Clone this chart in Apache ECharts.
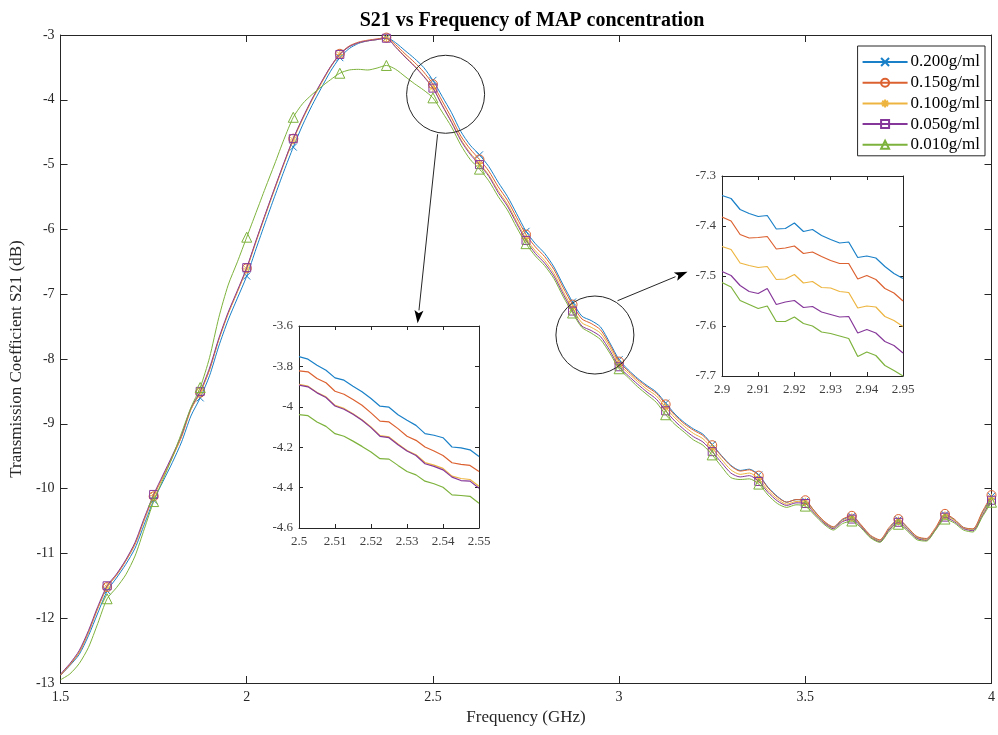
<!DOCTYPE html>
<html><head><meta charset="utf-8">
<script src="https://cdn.jsdelivr.net/npm/echarts@6/dist/echarts.min.js"></script>
<style>html,body{margin:0;padding:0;background:#fff}#c{width:998px;height:735px}</style>
</head><body><div id="c"></div><script>
const seriesNames = ['0.200g/ml','0.150g/ml','0.100g/ml','0.050g/ml','0.010g/ml'];
const freq = [1.500,1.525,1.550,1.575,1.600,1.625,1.650,1.675,1.700,1.725,
1.750,1.775,1.800,1.825,1.850,1.875,1.900,1.925,1.950,1.975,
2.000,2.025,2.050,2.075,2.100,2.125,2.150,2.175,2.200,2.225,
2.250,2.275,2.300,2.325,2.350,2.375,2.400,2.425,2.450,2.475,
2.500,2.525,2.550,2.575,2.600,2.625,2.650,2.675,2.700,2.725,
2.750,2.775,2.800,2.825,2.850,2.875,2.900,2.925,2.950,2.975,
3.000,3.025,3.050,3.075,3.100,3.125,3.150,3.175,3.200,3.225,
3.250,3.275,3.300,3.325,3.350,3.375,3.400,3.425,3.450,3.475,
3.500,3.525,3.550,3.575,3.600,3.625,3.650,3.675,3.700,3.725,
3.750,3.775,3.800,3.825,3.850,3.875,3.900,3.925,3.950,3.975,
4.000];
const s200 = [-12.88,-12.73,-12.56,-12.27,-11.92,-11.58,-11.38,-11.17,-10.92,-10.55,
-10.18,-9.89,-9.60,-9.28,-8.88,-8.60,-8.26,-7.80,-7.40,-7.06,
-6.72,-6.30,-5.89,-5.49,-5.10,-4.73,-4.39,-4.09,-3.82,-3.56,
-3.35,-3.21,-3.13,-3.09,-3.07,-3.04,-3.12,-3.24,-3.36,-3.50,
-3.70,-3.95,-4.20,-4.49,-4.70,-4.85,-5.03,-5.27,-5.49,-5.76,
-6.03,-6.22,-6.37,-6.58,-6.86,-7.12,-7.339,-7.407,-7.505,-7.75,
-8.01,-8.17,-8.30,-8.41,-8.51,-8.68,-8.85,-8.98,-9.08,-9.16,
-9.32,-9.49,-9.64,-9.72,-9.70,-9.79,-9.98,-10.12,-10.21,-10.17,
-10.19,-10.35,-10.51,-10.60,-10.48,-10.43,-10.57,-10.73,-10.80,-10.62,
-10.48,-10.61,-10.75,-10.78,-10.62,-10.40,-10.48,-10.60,-10.63,-10.38,
-10.12];
const s150 = [-12.88,-12.72,-12.53,-12.22,-11.85,-11.52,-11.34,-11.12,-10.86,-10.48,
-10.12,-9.82,-9.52,-9.20,-8.78,-8.52,-8.17,-7.70,-7.30,-6.96,
-6.60,-6.18,-5.77,-5.37,-4.98,-4.60,-4.29,-4.00,-3.74,-3.49,
-3.29,-3.17,-3.11,-3.08,-3.06,-3.04,-3.15,-3.29,-3.42,-3.57,
-3.76,-4.02,-4.28,-4.56,-4.76,-4.92,-5.10,-5.34,-5.55,-5.82,
-6.08,-6.27,-6.42,-6.62,-6.90,-7.16,-7.382,-7.452,-7.55,-7.78,
-8.04,-8.19,-8.32,-8.43,-8.53,-8.70,-8.87,-9.00,-9.10,-9.18,
-9.33,-9.50,-9.65,-9.73,-9.71,-9.80,-9.99,-10.13,-10.21,-10.17,
-10.18,-10.35,-10.50,-10.59,-10.47,-10.42,-10.56,-10.72,-10.79,-10.60,
-10.47,-10.60,-10.74,-10.77,-10.60,-10.39,-10.47,-10.60,-10.62,-10.36,
-10.10];
const s100 = [-12.87,-12.71,-12.52,-12.21,-11.84,-11.52,-11.33,-11.11,-10.85,-10.47,
-10.11,-9.81,-9.51,-9.19,-8.78,-8.52,-8.16,-7.70,-7.30,-6.96,
-6.61,-6.19,-5.78,-5.38,-4.99,-4.62,-4.30,-4.01,-3.75,-3.50,
-3.30,-3.18,-3.12,-3.09,-3.07,-3.05,-3.18,-3.33,-3.47,-3.63,
-3.81,-4.08,-4.34,-4.61,-4.82,-4.98,-5.16,-5.40,-5.61,-5.88,
-6.14,-6.33,-6.48,-6.68,-6.96,-7.22,-7.441,-7.511,-7.601,-7.82,
-8.08,-8.22,-8.35,-8.47,-8.57,-8.75,-8.91,-9.04,-9.15,-9.23,
-9.38,-9.55,-9.71,-9.78,-9.76,-9.85,-10.03,-10.16,-10.24,-10.20,
-10.21,-10.37,-10.52,-10.61,-10.50,-10.45,-10.58,-10.74,-10.81,-10.63,
-10.50,-10.63,-10.76,-10.79,-10.62,-10.42,-10.49,-10.61,-10.64,-10.40,
-10.15];
const s050 = [-12.86,-12.70,-12.50,-12.19,-11.82,-11.50,-11.32,-11.10,-10.83,-10.45,
-10.09,-9.79,-9.49,-9.17,-8.76,-8.50,-8.14,-7.68,-7.28,-6.94,
-6.59,-6.17,-5.76,-5.36,-4.97,-4.60,-4.28,-3.99,-3.73,-3.49,
-3.30,-3.18,-3.12,-3.09,-3.07,-3.05,-3.19,-3.34,-3.48,-3.64,
-3.82,-4.09,-4.35,-4.63,-4.84,-5.00,-5.18,-5.43,-5.64,-5.91,
-6.17,-6.37,-6.52,-6.72,-7.00,-7.26,-7.491,-7.561,-7.654,-7.87,
-8.12,-8.26,-8.39,-8.51,-8.62,-8.80,-8.96,-9.09,-9.20,-9.28,
-9.43,-9.60,-9.76,-9.82,-9.80,-9.89,-10.06,-10.19,-10.26,-10.22,
-10.23,-10.39,-10.53,-10.62,-10.51,-10.47,-10.59,-10.75,-10.82,-10.64,
-10.52,-10.64,-10.77,-10.80,-10.63,-10.44,-10.51,-10.62,-10.65,-10.42,
-10.18];
const s010 = [-12.95,-12.86,-12.70,-12.45,-12.08,-11.70,-11.53,-11.33,-11.04,-10.62,
-10.20,-9.86,-9.52,-9.14,-8.75,-8.44,-7.98,-7.36,-6.86,-6.50,
-6.12,-5.74,-5.36,-4.99,-4.61,-4.27,-4.06,-3.92,-3.80,-3.69,
-3.59,-3.54,-3.53,-3.54,-3.51,-3.47,-3.53,-3.64,-3.75,-3.85,
-3.97,-4.19,-4.42,-4.70,-4.92,-5.07,-5.25,-5.49,-5.70,-5.97,
-6.22,-6.41,-6.56,-6.76,-7.04,-7.29,-7.513,-7.60,-7.70,-7.91,
-8.15,-8.29,-8.43,-8.55,-8.67,-8.86,-9.01,-9.13,-9.25,-9.33,
-9.48,-9.66,-9.83,-9.86,-9.85,-9.93,-10.10,-10.23,-10.29,-10.25,
-10.27,-10.41,-10.55,-10.64,-10.54,-10.50,-10.61,-10.76,-10.83,-10.66,
-10.55,-10.66,-10.79,-10.81,-10.64,-10.47,-10.53,-10.64,-10.67,-10.44,
-10.21];

// Inset 1: 2.50 - 2.55 GHz
const freqA = [2.5,2.5025,2.505,2.5075,2.51,2.5125,2.515,2.5175,2.52,2.5225,2.525,2.5275,2.53,2.5325,2.535,2.5375,2.54,2.5425,2.545,2.5475,2.55];
const a200 = [-3.752,-3.764,-3.794,-3.819,-3.857,-3.868,-3.898,-3.926,-3.959,-3.997,-4.002,-4.039,-4.067,-4.092,-4.133,-4.141,-4.153,-4.199,-4.203,-4.213,-4.246];
const a150 = [-3.822,-3.827,-3.860,-3.881,-3.923,-3.938,-3.964,-3.992,-4.030,-4.071,-4.075,-4.108,-4.146,-4.166,-4.199,-4.219,-4.241,-4.277,-4.285,-4.290,-4.320];
const a100 = [-3.889,-3.898,-3.929,-3.951,-3.993,-4.008,-4.034,-4.064,-4.100,-4.143,-4.149,-4.184,-4.216,-4.237,-4.276,-4.289,-4.305,-4.343,-4.355,-4.360,-4.393];
const a050 = [-3.893,-3.901,-3.931,-3.954,-3.996,-4.012,-4.037,-4.067,-4.103,-4.146,-4.153,-4.188,-4.219,-4.241,-4.282,-4.295,-4.312,-4.348,-4.365,-4.368,-4.403];
const a010 = [-4.039,-4.044,-4.075,-4.097,-4.133,-4.146,-4.170,-4.196,-4.224,-4.257,-4.259,-4.290,-4.320,-4.337,-4.368,-4.381,-4.398,-4.436,-4.439,-4.443,-4.477];

// Inset 2: 2.90 - 2.95 GHz
const freqB = [2.9,2.9025,2.905,2.9075,2.91,2.9125,2.915,2.9175,2.92,2.9225,2.925,2.9275,2.93,2.9325,2.935,2.9375,2.94,2.9425,2.945,2.9475,2.95];
const b200 = [-7.339,-7.345,-7.367,-7.375,-7.381,-7.379,-7.406,-7.405,-7.394,-7.411,-7.407,-7.419,-7.427,-7.434,-7.432,-7.463,-7.460,-7.464,-7.481,-7.495,-7.505];
const b150 = [-7.382,-7.390,-7.417,-7.424,-7.423,-7.421,-7.446,-7.444,-7.440,-7.455,-7.452,-7.461,-7.469,-7.475,-7.475,-7.506,-7.499,-7.507,-7.525,-7.534,-7.550];
const b100 = [-7.441,-7.447,-7.474,-7.479,-7.483,-7.481,-7.507,-7.506,-7.497,-7.514,-7.511,-7.523,-7.524,-7.531,-7.533,-7.564,-7.560,-7.562,-7.581,-7.589,-7.601];
const b050 = [-7.491,-7.499,-7.519,-7.531,-7.535,-7.525,-7.557,-7.552,-7.549,-7.563,-7.561,-7.572,-7.577,-7.582,-7.581,-7.614,-7.607,-7.614,-7.631,-7.639,-7.654];
const b010 = [-7.513,-7.522,-7.549,-7.557,-7.565,-7.560,-7.591,-7.591,-7.582,-7.595,-7.600,-7.612,-7.615,-7.620,-7.625,-7.661,-7.652,-7.659,-7.679,-7.689,-7.700];

const mainVals = [s200, s150, s100, s050, s010];
const insetAVals = [a200, a150, a100, a050, a010];
const insetBVals = [b200, b150, b100, b050, b010];

const colors = ['#1A80C8','#DC6130','#EDB540','#86389A','#7DB23C'];
const symbols = ['path://M0,0L10,10M10,0L0,10','circle','path://M5,0L5,10M0,5L10,5M1.5,1.5L8.5,8.5M8.5,1.5L1.5,8.5','rect','triangle'];
const symSizes = [7, 9, 9, 8, 10];
const FONT = '"Liberation Serif","Times New Roman",serif';

const chart = echarts.init(document.getElementById('c'));

function axisPair(grid, min, max, interval, fmt, isX, labelSize, labelColor, tickLen) {
  const base = {
    gridIndex: grid, type: 'value', min, max, interval,
    axisLine: {show: true, onZero: false, lineStyle: {color: '#262626', width: 1}},
    axisTick: {show: true, inside: true, length: tickLen, lineStyle: {color: '#262626'}},
    splitLine: {show: false},
  };
  const a = Object.assign({}, base, {
    position: isX ? 'bottom' : 'left',
    axisLabel: {show: true, fontFamily: FONT, fontSize: labelSize, color: labelColor, margin: isX ? 7 : 6, formatter: fmt}
  });
  const b = Object.assign({}, base, {
    position: isX ? 'top' : 'right',
    axisLabel: {show: false}
  });
  return [a, b];
}

const fmt1 = v => String(+v.toFixed(1));
const fmt2 = v => String(+v.toFixed(2));

const xAxes = [].concat(
  axisPair(0, 1.5, 4, 0.5, fmt1, true, 14, '#262626', 7),
  axisPair(1, 2.5, 2.55, 0.01, fmt2, true, 13, '#404040', 4),
  axisPair(2, 2.9, 2.95, 0.01, fmt2, true, 13, '#404040', 4)
);
const yAxes = [].concat(
  axisPair(0, -13, -3, 1, fmt1, false, 14, '#262626', 7),
  axisPair(1, -4.6, -3.6, 0.2, fmt1, false, 13, '#404040', 4),
  axisPair(2, -7.7, -7.3, 0.1, fmt1, false, 13, '#404040', 4)
);
xAxes[0].name = 'Frequency (GHz)';
xAxes[0].nameLocation = 'middle';
xAxes[0].nameGap = 26;
xAxes[0].nameTextStyle = {fontFamily: FONT, fontSize: 17, color: '#262626'};
yAxes[0].name = 'Transmission Coefficient S21 (dB)';
yAxes[0].nameLocation = 'middle';
yAxes[0].nameGap = 31;
yAxes[0].nameTextStyle = {fontFamily: FONT, fontSize: 17, color: '#262626'};

const series = [];
mainVals.forEach((vals, k) => {
  series.push({
    name: seriesNames[k], type: 'line', xAxisIndex: 0, yAxisIndex: 0,
    data: freq.map((f, i) => [f, vals[i]]),
    smooth: 0.25, showSymbol: true, showAllSymbol: true,
    symbol: symbols[k], symbolKeepAspect: true,
    symbolSize: (v, p) => (p.dataIndex > 0 && p.dataIndex % 5 === 0) ? symSizes[k] : 0,
    lineStyle: {color: colors[k], width: 1},
    itemStyle: {color: 'rgba(255,255,255,0)', borderColor: colors[k], borderWidth: 1},
    emphasis: {disabled: true}, z: 2 + k
  });
});
insetAVals.forEach((vals, k) => {
  series.push({
    name: seriesNames[k], type: 'line', xAxisIndex: 2, yAxisIndex: 2,
    data: freqA.map((f, i) => [f, vals[i]]),
    showSymbol: false, lineStyle: {color: colors[k], width: 1.2},
    itemStyle: {color: colors[k]}, emphasis: {disabled: true}, z: 2 + k
  });
});
insetBVals.forEach((vals, k) => {
  series.push({
    name: seriesNames[k], type: 'line', xAxisIndex: 4, yAxisIndex: 4,
    data: freqB.map((f, i) => [f, vals[i]]),
    showSymbol: false, lineStyle: {color: colors[k], width: 1.2},
    itemStyle: {color: colors[k]}, emphasis: {disabled: true}, z: 2 + k
  });
});

chart.setOption({
  animation: false,
  backgroundColor: '#fff',
  title: {
    text: 'S21 vs Frequency of MAP concentration',
    left: 527, top: 6, textAlign: 'center',
    textStyle: {fontFamily: FONT, fontSize: 20, fontWeight: 'bold', color: '#000'}
  },
  legend: {
    data: seriesNames, orient: 'vertical', right: 13, top: 46,
    padding: [6, 5, 1, 4], itemGap: 0.7, itemWidth: 45, itemHeight: 10,
    backgroundColor: '#fff', borderColor: '#262626', borderWidth: 1,
    textStyle: {fontFamily: FONT, fontSize: 17, color: '#000', lineHeight: 20, padding: [0,0,0,-2]},
    z: 20
  },
  grid: [
    {left: 58, right: 2, top: 35, bottom: 52},
    {left: 299, width: 180, top: 326, height: 202, backgroundColor: '#fff', show: true, borderWidth: 0},
    {left: 722, width: 181, top: 176, height: 200, backgroundColor: '#fff', show: true, borderWidth: 0}
  ],
  xAxis: xAxes,
  yAxis: yAxes,
  series
});

// annotations: zoom circles and arrows
const c1 = chart.convertToPixel({gridIndex: 0}, [2.534, -3.915]);
const c2 = chart.convertToPixel({gridIndex: 0}, [2.935, -7.63]);
const r = 39;
function arrow(x1, y1, x2, y2) {
  const dx = x2 - x1, dy = y2 - y1, L = Math.hypot(dx, dy);
  const ux = dx / L, uy = dy / L, hl = 13, hw = 4.5;
  const bx = x2 - ux * hl, by = y2 - uy * hl;
  return [
    {type: 'line', shape: {x1, y1, x2: bx, y2: by}, style: {stroke: '#262626', lineWidth: 1}, z: 30},
    {type: 'polygon', shape: {points: [[x2, y2], [bx - uy * hw, by + ux * hw], [bx + ux * 3, by + uy * 3], [bx + uy * hw, by - ux * hw]]}, style: {fill: '#000'}, z: 30}
  ];
}
const g = [
  {type: 'circle', shape: {cx: c1[0], cy: c1[1], r}, style: {fill: 'none', stroke: '#262626', lineWidth: 1}, z: 30},
  {type: 'circle', shape: {cx: c2[0], cy: c2[1], r}, style: {fill: 'none', stroke: '#262626', lineWidth: 1}, z: 30}
].concat(
  arrow(c1[0] - 8, c1[1] + 40, c1[0] - 28, c1[1] + 229),
  arrow(c2[0] + 22.6, c2[1] - 34.3, c2[0] + 92.6, c2[1] - 63.3)
);
chart.setOption({graphic: g});
</script></body></html>
